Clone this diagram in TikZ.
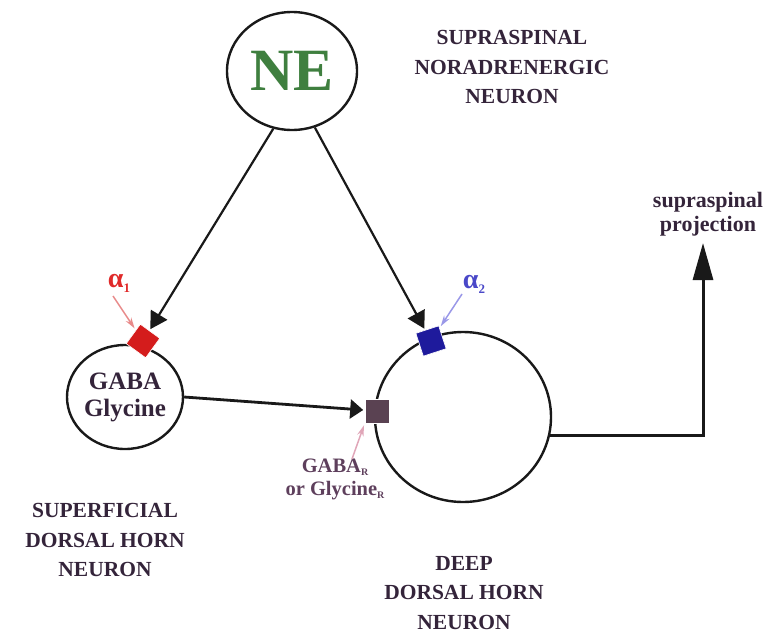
\documentclass[tikz,border=0pt]{standalone}
\usepackage{fontspec}
\setmainfont{Liberation Serif}
\usetikzlibrary{arrows.meta,shapes.geometric,calc}
\definecolor{txt}{HTML}{34243A}
\definecolor{negreen}{HTML}{3F7F3F}
\definecolor{redbox}{HTML}{D41C1C}
\definecolor{bluebox}{HTML}{1E1A9C}
\definecolor{purplebox}{HTML}{5A4252}
\definecolor{alphared}{HTML}{E02A2A}
\definecolor{alphablue}{HTML}{4A48C8}
\definecolor{pinkred}{HTML}{E88A8A}
\definecolor{lavender}{HTML}{9A98E8}
\definecolor{pinkmauve}{HTML}{E0A6B8}
\definecolor{mauvetxt}{HTML}{5E3F5C}
\begin{document}
\begin{tikzpicture}[x=1pt,y=1pt,
  cell/.style={ellipse,draw=black!90,line width=2.4pt,inner sep=0pt},
  rcpt/.style={rectangle,minimum size=24pt,inner sep=0pt,draw=white,line width=0.6pt},
  biglabel/.style={align=center,text=txt,font=\fontsize{21.5}{29.5}\selectfont\bfseries},
  conn/.style={draw=black!90,line width=2.2pt,-{Triangle[length=17pt,width=19pt]},shorten >=1.5pt},
  pinkarrow/.style={line width=1.5pt,-{Stealth[open,length=11pt,width=6.5pt]},shorten >=2pt}]
\useasboundingbox (0,0) rectangle (775,-637);
% cells
\node[cell,minimum width=130pt,minimum height=118pt,text=negreen,
      font=\fontsize{60}{60}\selectfont\bfseries] (ne) at (292,-71) {NE};
\node[cell,minimum width=116pt,minimum height=104pt,align=center,text=txt,
      font=\fontsize{25}{27}\selectfont\bfseries] (gaba) at (125,-397) {GABA\\Glycine};
\node[cell,minimum width=176pt,minimum height=170pt] (deep) at (463,-417) {};
% receptors
\node[rcpt,fill=redbox,rotate=-36] (rb) at (143,-341) {};
\node[rcpt,fill=bluebox,rotate=18] (bb) at (431,-341) {};
\node[rcpt,fill=purplebox] (pb) at (377,-411) {};
% connectors
\draw[conn] (ne.-108) -- (rb);
\draw[conn] (ne.-68) -- (bb);
\draw[conn,line width=2.8pt,-{Triangle[length=13pt,width=19pt]}] (gaba.east) -- (pb);
\coordinate (tip) at (703,-243);
\draw[draw=black!90,line width=3pt,-{Triangle[length=37pt,width=20pt]}] (deep.-12) -| (tip);
% labels
\node[biglabel] (supra) at (512,-67) {SUPRASPINAL\\NORADRENERGIC\\NEURON};
\node[biglabel] (sup) at (105,-540) {SUPERFICIAL\\DORSAL HORN\\NEURON};
\node[biglabel] (dp) at (464,-593) {DEEP\\DORSAL HORN\\NEURON};
\node[align=center,text=txt,font=\fontsize{22}{24}\selectfont\bfseries] (proj) at (708,-214) {supraspinal\\projection};
\node[text=alphared,font=\fontsize{28}{28}\selectfont\bfseries,inner sep=0pt] (a1) at (119,-283)
  {α\raisebox{-5pt}{\fontsize{13}{13}\selectfont 1}};
\node[text=alphablue,font=\fontsize{28}{28}\selectfont\bfseries,inner sep=0pt] (a2) at (474,-284)
  {α\raisebox{-5pt}{\fontsize{13}{13}\selectfont 2}};
\node[align=center,text=mauvetxt,font=\fontsize{20.5}{23}\selectfont\bfseries] (grl) at (335,-479)
  {GABA\raisebox{-3pt}{\fontsize{10}{10}\selectfont R}\\or Glycine\raisebox{-3pt}{\fontsize{10}{10}\selectfont R}};
% pointer arrows
\coordinate (a1s) at (113,-296);
\coordinate (a2s) at (462,-294);
\coordinate (grs) at (352,-459);
\draw[pinkarrow,draw=pinkred] (a1s) -- (rb);
\draw[pinkarrow,draw=lavender] (a2s) -- (bb);
\draw[pinkarrow,draw=pinkmauve] (grs) -- (pb.south west);
\end{tikzpicture}
\end{document}
